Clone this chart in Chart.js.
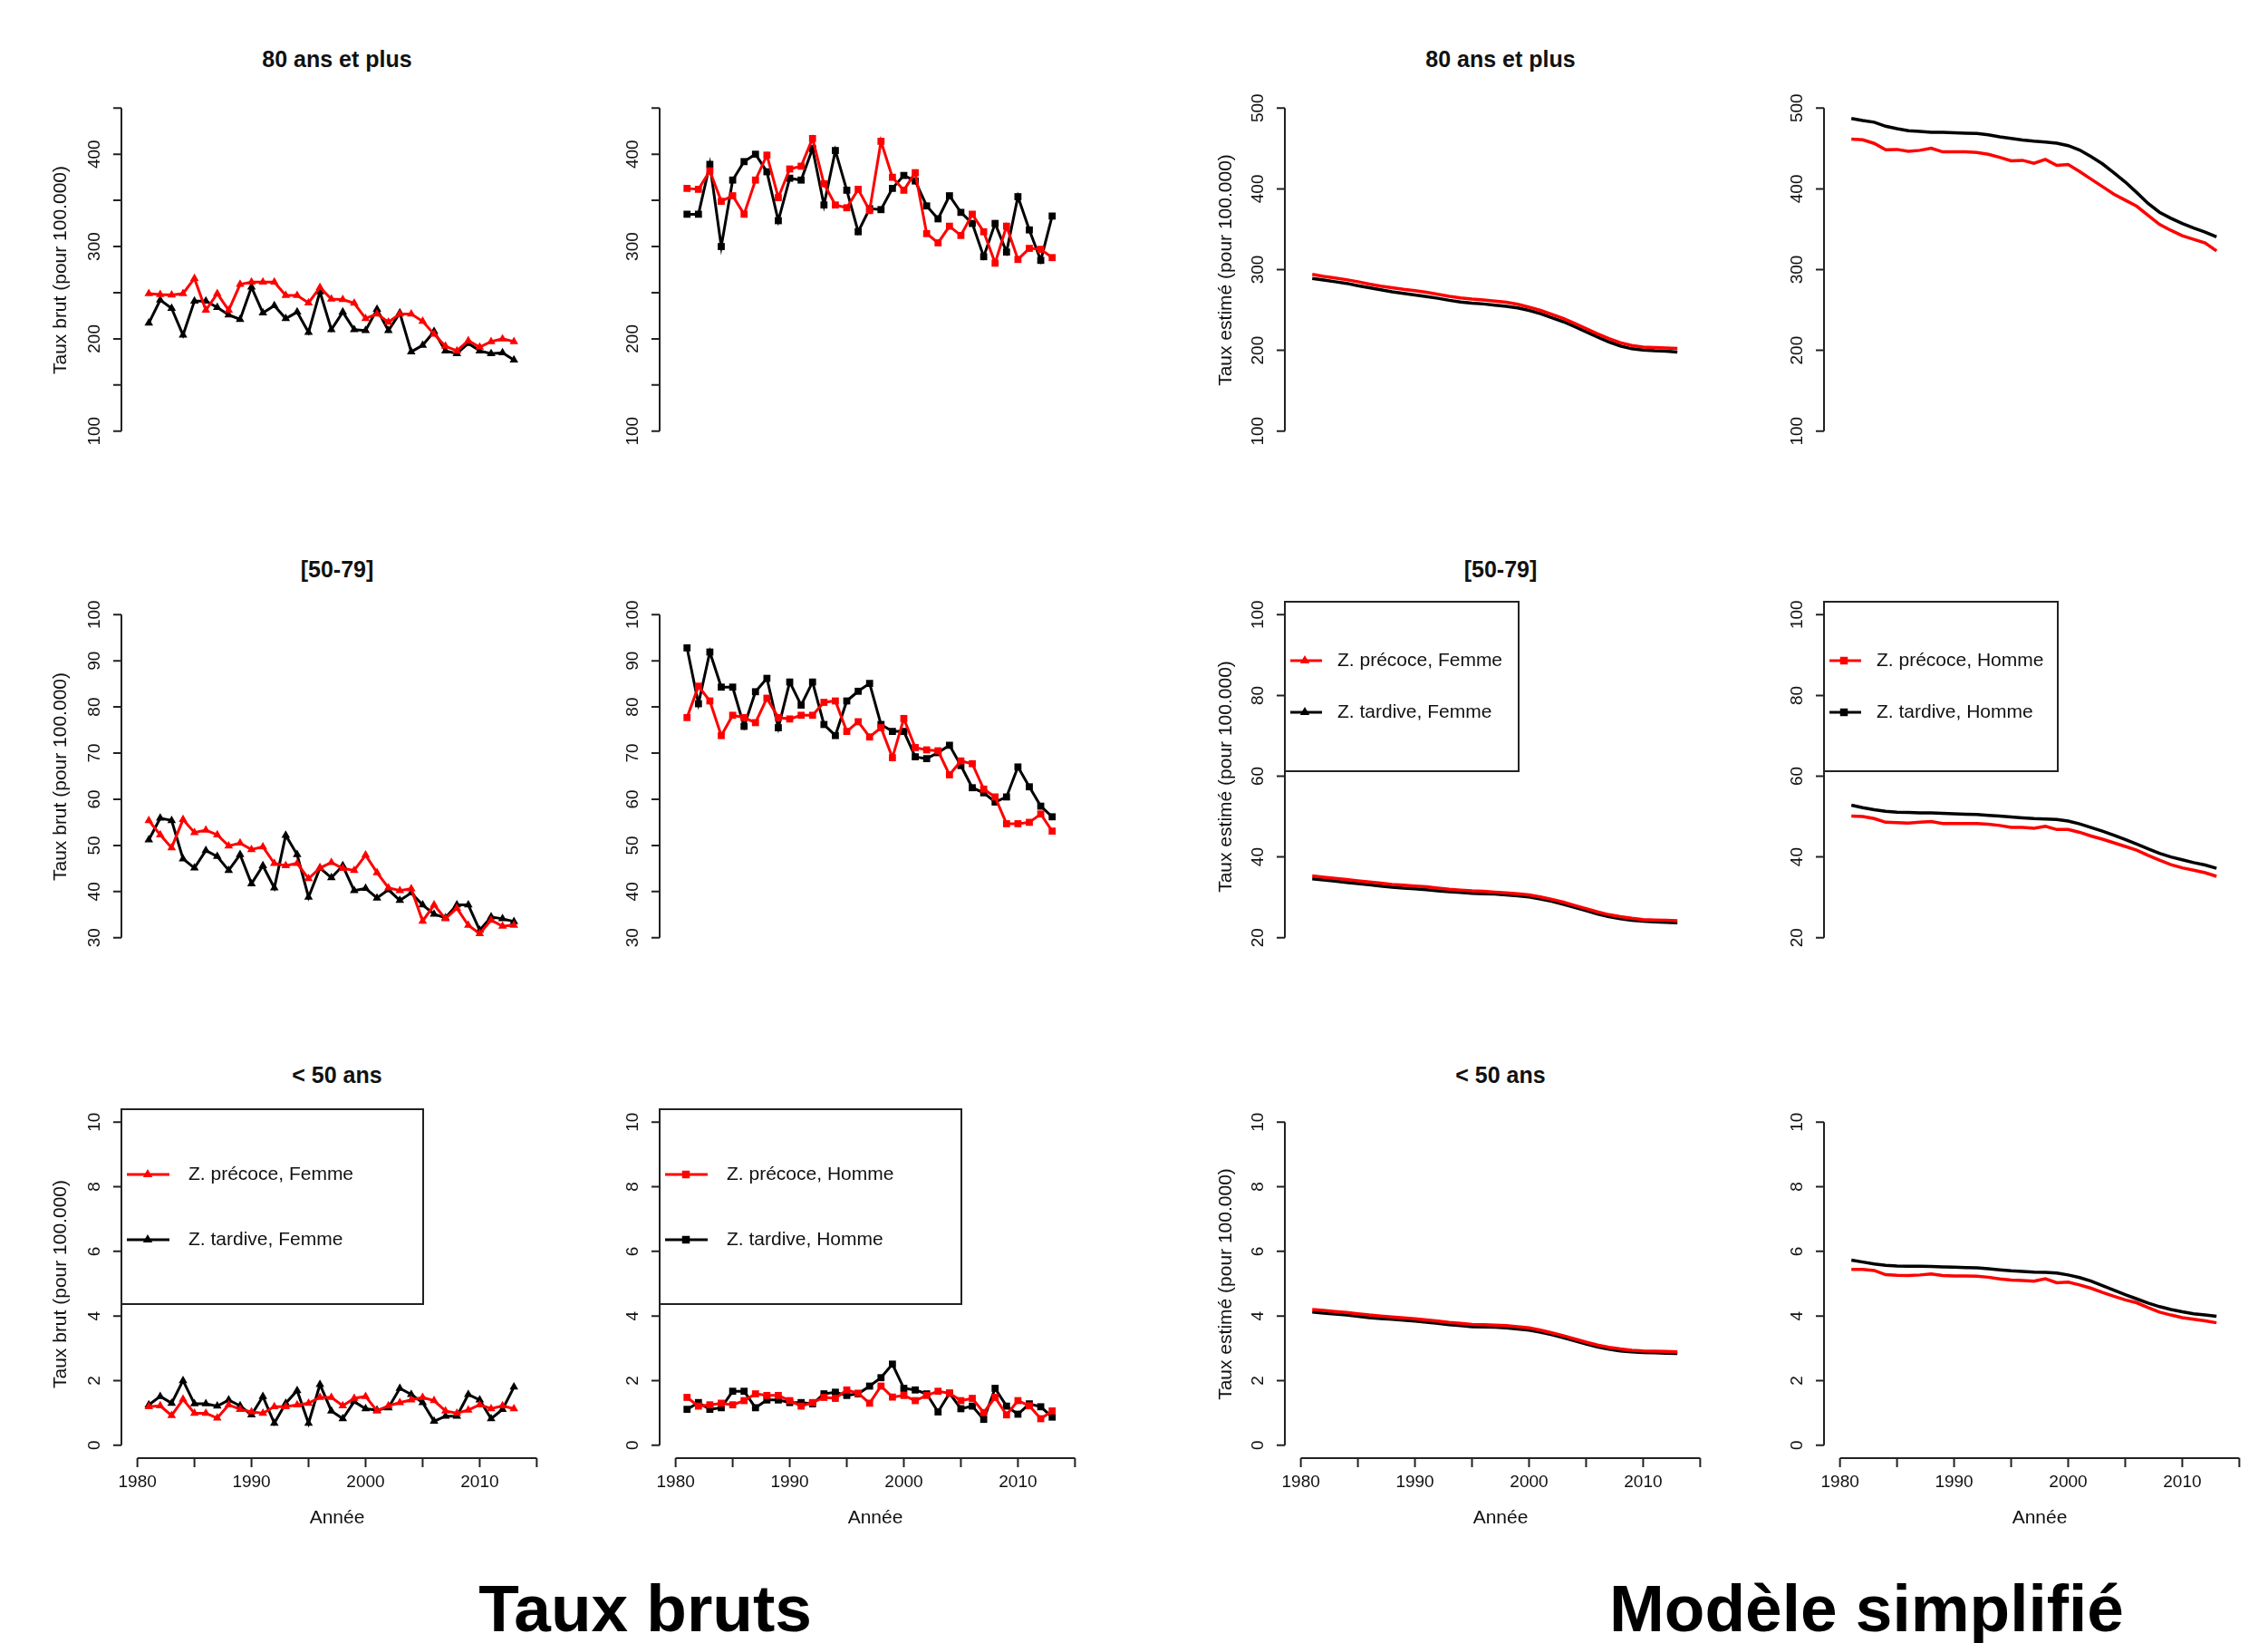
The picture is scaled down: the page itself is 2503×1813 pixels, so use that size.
<!DOCTYPE html>
<html>
<head>
<meta charset="utf-8">
<title>Taux bruts / Modèle simplifié</title>
<script src="https://cdn.jsdelivr.net/npm/chart.js@4.4.1/dist/chart.umd.min.js"></script>
<style>
  body { margin: 0; background: #fff; width: 2503px; height: 1813px; position: relative; overflow: hidden;
         font-family: "Liberation Sans", Arial, sans-serif; color: #111; }
  canvas { position: absolute; }
  .txt { position: absolute; white-space: nowrap; line-height: 1; transform: translate(-50%, -50%); }
  .titre { font-size: 25px; font-weight: bold; }
  .ylab { font-size: 21px; transform: translate(-50%, -50%) rotate(-90deg); }
  .xlab { font-size: 21px; }
  .big { font-size: 73px; font-weight: bold; color: #000; }
</style>
</head>
<body>
<script>
// years on the x axis
const years = [1981, 1982, 1983, 1984, 1985, 1986, 1987, 1988, 1989, 1990, 1991, 1992, 1993, 1994, 1995, 1996, 1997,
  1998, 1999, 2000, 2001, 2002, 2003, 2004, 2005, 2006, 2007, 2008, 2009, 2010, 2011, 2012, 2013];

// Taux bruts - 80 ans et plus
const brut80F_precoce = [249, 248, 247.5, 249, 265.5, 231, 249, 231, 259, 261.5, 261.5, 261.5, 247, 247, 239, 255.7, 243,
  242.5, 238.6, 222, 227, 218, 227, 227, 219, 205, 192, 187, 198, 191, 197, 200, 197];
const brut80F_tardive = [217, 242, 233, 204, 241, 241, 234, 226, 221, 256, 228, 236, 222, 229, 207, 251, 210,
  229, 210, 209, 232, 209, 228, 186, 193, 208, 187, 184, 195, 187, 184, 185, 177];
const brut80H_precoce = [363, 362, 382, 349, 355, 335, 372, 399, 353, 384, 387, 417, 368, 345, 342, 362, 339,
  414, 375, 361, 380, 314, 304, 322, 312, 335, 316, 282, 322, 286, 298, 297, 288];
const brut80H_tardive = [335, 335, 389, 300, 372, 392, 400, 381, 328, 374, 372, 406, 345, 404, 361, 316, 341,
  340, 363, 377, 371, 344, 330, 355, 337, 325, 289, 325, 294, 354, 318, 285, 333];

// Taux bruts - [50-79]
const brut5079F_precoce = [55.4, 52.3, 49.5, 55.6, 52.8, 53.3, 52.3, 49.9, 50.5, 49.1, 49.7, 46.1, 45.6, 46.1, 42.8, 45.1, 46.3,
  45.0, 44.6, 47.9, 44.1, 40.8, 40.2, 40.6, 33.6, 37.1, 34.1, 36.4, 32.7, 30.9, 33.8, 32.5, 32.7];
const brut5079F_tardive = [51.2, 55.9, 55.4, 47.1, 45.1, 48.9, 47.6, 44.6, 48.0, 41.7, 45.6, 40.8, 52.2, 48.0, 38.8, 45.1, 43.0,
  45.6, 40.2, 40.7, 38.6, 40.4, 38.1, 39.7, 37.1, 35.1, 34.3, 37.1, 37.1, 31.6, 34.5, 34.1, 33.5];
const brut5079H_precoce = [77.7, 84.5, 81.3, 73.8, 78.2, 77.7, 76.6, 81.9, 77.7, 77.4, 78.2, 78.2, 81.0, 81.3, 74.7, 76.8, 73.5,
  75.5, 69.0, 77.5, 71.2, 70.7, 70.5, 65.3, 68.3, 67.7, 62.2, 60.5, 54.7, 54.7, 55.0, 56.8, 53.1];
const brut5079H_tardive = [92.8, 80.7, 91.9, 84.3, 84.3, 75.8, 83.3, 86.2, 75.5, 85.4, 80.4, 85.4, 76.2, 73.8, 81.3, 83.4, 85.1,
  76.2, 74.7, 74.7, 69.2, 68.8, 70.1, 71.7, 67.3, 62.5, 61.4, 59.4, 60.5, 67.0, 62.7, 58.5, 56.2];

// Taux bruts - < 50 ans
const brut50F_precoce = [1.19, 1.22, 0.92, 1.42, 0.99, 0.99, 0.84, 1.25, 1.11, 1.03, 0.99, 1.19, 1.19, 1.25, 1.30, 1.48, 1.48,
  1.22, 1.45, 1.51, 1.06, 1.22, 1.32, 1.40, 1.48, 1.38, 1.06, 0.99, 1.09, 1.25, 1.13, 1.22, 1.13];
const brut50F_tardive = [1.25, 1.51, 1.30, 2.00, 1.28, 1.28, 1.21, 1.40, 1.22, 0.94, 1.51, 0.68, 1.30, 1.69, 0.68, 1.88, 1.06,
  0.82, 1.35, 1.13, 1.09, 1.16, 1.76, 1.57, 1.32, 0.74, 0.90, 0.90, 1.57, 1.40, 0.82, 1.11, 1.80];
const brut50H_precoce = [1.48, 1.21, 1.25, 1.30, 1.25, 1.38, 1.59, 1.54, 1.54, 1.38, 1.21, 1.32, 1.48, 1.45, 1.71, 1.61, 1.30,
  1.83, 1.49, 1.54, 1.38, 1.54, 1.67, 1.61, 1.38, 1.45, 1.01, 1.48, 0.94, 1.38, 1.22, 0.82, 1.06];
const brut50H_tardive = [1.11, 1.32, 1.11, 1.16, 1.67, 1.67, 1.16, 1.40, 1.40, 1.32, 1.32, 1.28, 1.59, 1.64, 1.54, 1.59, 1.83,
  2.09, 2.51, 1.76, 1.71, 1.59, 1.03, 1.61, 1.13, 1.21, 0.80, 1.76, 1.21, 0.96, 1.28, 1.19, 0.87];

// Modele simplifie - 80 ans et plus
const modele80F_precoce = [294, 291.5, 289.5, 287.5, 285, 282, 279.5, 277.5, 275.5, 274, 272, 269.5, 267, 265, 263.5, 262.5, 261,
  259.5, 257, 253.5, 249.5, 244.5, 239.5, 233.5, 227, 220.5, 214.5, 209.5, 206, 204, 203.5, 203, 202.5];
const modele80F_tardive = [289, 287, 285, 283, 280, 277.5, 275, 272.5, 270.5, 268.5, 266.5, 264.5, 262, 260, 258.5, 257.5, 256,
  254.5, 252.5, 249.5, 245.5, 240.5, 235.5, 229.5, 223, 216.5, 210.5, 205.5, 202, 200.5, 199.5, 199, 198];
const modele80H_precoce = [461.5, 460.7, 456.3, 448.4, 448.8, 446.5, 447.7, 450.3, 445.8, 445.8, 445.8, 445, 442.8, 439, 434.6, 435.3, 431.6,
  436.4, 429, 430.1, 421.5, 412.1, 402.8, 393.5, 386, 378.5, 367.3, 356.1, 348.6, 341.9, 337.4, 332.9, 323.2];
const modele80H_tardive = [487, 484.5, 482.5, 477.5, 474.5, 472, 471, 470, 470, 469.5, 469, 468.5, 467, 464.5, 462.5, 460.5, 459,
  458, 456.5, 453.5, 448, 440, 431, 420, 408.5, 395.5, 382, 371, 363.5, 357, 351.5, 346.5, 340.5];

// Modele simplifie - [50-79]
const modele5079F_precoce = [35.3, 35.0, 34.7, 34.4, 34.1, 33.8, 33.5, 33.2, 33.0, 32.8, 32.6, 32.3, 32.0, 31.8, 31.6, 31.5, 31.3,
  31.1, 30.9, 30.6, 30.1, 29.5, 28.8, 28.0, 27.2, 26.4, 25.7, 25.2, 24.8, 24.5, 24.4, 24.3, 24.2];
const modele5079F_tardive = [34.6, 34.3, 34.0, 33.7, 33.4, 33.1, 32.8, 32.5, 32.3, 32.1, 31.9, 31.6, 31.4, 31.2, 31.0, 30.9, 30.8,
  30.6, 30.4, 30.1, 29.6, 29.0, 28.3, 27.5, 26.7, 25.9, 25.2, 24.7, 24.3, 24.1, 23.9, 23.8, 23.7];
const modele5079H_precoce = [50.1, 50.0, 49.5, 48.6, 48.5, 48.4, 48.6, 48.8, 48.3, 48.3, 48.3, 48.3, 48.1, 47.8, 47.3, 47.3, 47.1,
  47.6, 46.8, 46.8, 46.1, 45.2, 44.4, 43.5, 42.6, 41.7, 40.4, 39.2, 38.1, 37.3, 36.7, 36.1, 35.2];
const modele5079H_tardive = [52.8, 52.2, 51.7, 51.3, 51.1, 51.0, 50.9, 50.9, 50.8, 50.7, 50.6, 50.5, 50.3, 50.1, 49.9, 49.7, 49.5,
  49.4, 49.3, 48.9, 48.2, 47.3, 46.4, 45.4, 44.3, 43.2, 42.0, 40.9, 40.0, 39.3, 38.6, 38.0, 37.2];

// Modele simplifie - < 50 ans
const modele50F_precoce = [4.20, 4.17, 4.14, 4.11, 4.07, 4.03, 4.00, 3.97, 3.94, 3.91, 3.88, 3.84, 3.80, 3.77, 3.74, 3.73, 3.72,
  3.70, 3.67, 3.63, 3.56, 3.48, 3.39, 3.29, 3.19, 3.10, 3.03, 2.98, 2.94, 2.92, 2.91, 2.90, 2.89];
const modele50F_tardive = [4.12, 4.09, 4.06, 4.03, 3.99, 3.95, 3.92, 3.90, 3.87, 3.84, 3.81, 3.77, 3.73, 3.70, 3.67, 3.66, 3.65,
  3.63, 3.60, 3.56, 3.50, 3.42, 3.33, 3.23, 3.13, 3.04, 2.97, 2.92, 2.89, 2.87, 2.86, 2.85, 2.84];
const modele50H_precoce = [5.44, 5.44, 5.41, 5.28, 5.26, 5.25, 5.27, 5.30, 5.25, 5.24, 5.24, 5.23, 5.20, 5.15, 5.11, 5.10, 5.08,
  5.15, 5.03, 5.05, 4.96, 4.86, 4.73, 4.61, 4.50, 4.41, 4.26, 4.12, 4.03, 3.95, 3.90, 3.85, 3.79];
const modele50H_tardive = [5.73, 5.67, 5.61, 5.57, 5.55, 5.54, 5.54, 5.53, 5.52, 5.51, 5.50, 5.49, 5.46, 5.43, 5.40, 5.38, 5.36,
  5.35, 5.33, 5.27, 5.19, 5.08, 4.94, 4.80, 4.66, 4.53, 4.40, 4.29, 4.20, 4.13, 4.07, 4.03, 3.99];

// axis ticks
const xTicks = [1980, 1985, 1990, 1995, 2000, 2005, 2010, 2015];
const xLabels = [1980, 1990, 2000, 2010];
const yTicks80Brut = [100, 150, 200, 250, 300, 350, 400, 450];
const yLabels80Brut = [100, 200, 300, 400];
const yTicks80Modele = [100, 200, 300, 400, 500];
const yTicks5079Brut = [30, 40, 50, 60, 70, 80, 90, 100];
const yTicks5079Modele = [20, 40, 60, 80, 100];
const yTicks50 = [0, 2, 4, 6, 8, 10];

const rowTitles = ['80 ans et plus', '[50-79]', '< 50 ans'];

// layout (page pixels)
const COL_LEFT = [134, 728, 1418, 2013];
const ROW_TOP = [105, 664, 1224];
const PLOT_W = 476, PLOT_H = 385;
const PAD = { left: 110, top: 20, right: 14, bottom: 60 };
const FONT = '"Liberation Sans", Arial, sans-serif';

const legendBrut = { w: 333, h: 215, rows: [72, 144], line: [6, 53], mark: 29, text: 74 };
const legendModele = { w: 258, h: 187, rows: [65, 122], line: [6, 41], mark: 22, text: 58 };

const panels = [
  { row: 0, col: 0, brut: true, sexe: 'Femme', s: [brut80F_precoce, brut80F_tardive], y: [86, 464], yt: yTicks80Brut, yl: yLabels80Brut },
  { row: 0, col: 1, brut: true, sexe: 'Homme', s: [brut80H_precoce, brut80H_tardive], y: [86, 464], yt: yTicks80Brut, yl: yLabels80Brut },
  { row: 0, col: 2, brut: false, sexe: 'Femme', s: [modele80F_precoce, modele80F_tardive], y: [84, 516], yt: yTicks80Modele, yl: yTicks80Modele },
  { row: 0, col: 3, brut: false, sexe: 'Homme', s: [modele80H_precoce, modele80H_tardive], y: [84, 516], yt: yTicks80Modele, yl: yTicks80Modele },
  { row: 1, col: 0, brut: true, sexe: 'Femme', s: [brut5079F_precoce, brut5079F_tardive], y: [27.2, 102.8], yt: yTicks5079Brut, yl: yTicks5079Brut },
  { row: 1, col: 1, brut: true, sexe: 'Homme', s: [brut5079H_precoce, brut5079H_tardive], y: [27.2, 102.8], yt: yTicks5079Brut, yl: yTicks5079Brut },
  { row: 1, col: 2, brut: false, sexe: 'Femme', s: [modele5079F_precoce, modele5079F_tardive], y: [16.8, 103.2], yt: yTicks5079Modele, yl: yTicks5079Modele, legend: legendModele },
  { row: 1, col: 3, brut: false, sexe: 'Homme', s: [modele5079H_precoce, modele5079H_tardive], y: [16.8, 103.2], yt: yTicks5079Modele, yl: yTicks5079Modele, legend: legendModele },
  { row: 2, col: 0, brut: true, sexe: 'Femme', s: [brut50F_precoce, brut50F_tardive], y: [-0.4, 10.4], yt: yTicks50, yl: yTicks50, legend: legendBrut },
  { row: 2, col: 1, brut: true, sexe: 'Homme', s: [brut50H_precoce, brut50H_tardive], y: [-0.4, 10.4], yt: yTicks50, yl: yTicks50, legend: legendBrut },
  { row: 2, col: 2, brut: false, sexe: 'Femme', s: [modele50F_precoce, modele50F_tardive], y: [-0.4, 10.4], yt: yTicks50, yl: yTicks50 },
  { row: 2, col: 3, brut: false, sexe: 'Homme', s: [modele50H_precoce, modele50H_tardive], y: [-0.4, 10.4], yt: yTicks50, yl: yTicks50 }
];

function drawMarker(ctx, style, x, y, r) {
  ctx.beginPath();
  if (style === 'triangle') {
    ctx.moveTo(x, y - r);
    ctx.lineTo(x + r * 0.866, y + r * 0.5);
    ctx.lineTo(x - r * 0.866, y + r * 0.5);
  } else {
    const s = r * 0.707;
    ctx.rect(x - s, y - s, 2 * s, 2 * s);
  }
  ctx.closePath();
  ctx.fill();
}

// R-style axes (line only between first and last tick) + boxed legend
const rAxes = {
  id: 'rAxes',
  afterDraw(chart, args, o) {
    const ctx = chart.ctx, a = chart.chartArea;
    const xs = chart.scales.x, ys = chart.scales.y;
    ctx.save();
    ctx.strokeStyle = '#222';
    ctx.lineWidth = 2;
    ctx.fillStyle = '#111';
    ctx.font = '19px ' + FONT;

    ctx.beginPath();
    ctx.moveTo(a.left, ys.getPixelForValue(o.yt[0]));
    ctx.lineTo(a.left, ys.getPixelForValue(o.yt[o.yt.length - 1]));
    o.yt.forEach(v => {
      const p = ys.getPixelForValue(v);
      ctx.moveTo(a.left, p);
      ctx.lineTo(a.left - 9, p);
    });
    ctx.stroke();
    ctx.textAlign = 'center';
    ctx.textBaseline = 'middle';
    o.yl.forEach(v => {
      ctx.save();
      ctx.translate(a.left - 29, ys.getPixelForValue(v));
      ctx.rotate(-Math.PI / 2);
      ctx.fillText(String(v), 0, 0);
      ctx.restore();
    });

    if (o.showX) {
      const yb = a.bottom;
      ctx.beginPath();
      ctx.moveTo(xs.getPixelForValue(xTicks[0]), yb);
      ctx.lineTo(xs.getPixelForValue(xTicks[xTicks.length - 1]), yb);
      xTicks.forEach(v => {
        const p = xs.getPixelForValue(v);
        ctx.moveTo(p, yb);
        ctx.lineTo(p, yb + 10);
      });
      ctx.stroke();
      xLabels.forEach(v => ctx.fillText(String(v), xs.getPixelForValue(v), yb + 27));
    }

    if (o.legend) {
      const L = o.legend;
      ctx.strokeStyle = '#222';
      ctx.lineWidth = 2;
      ctx.strokeRect(a.left, a.top, L.w, L.h);
      ctx.font = '21px ' + FONT;
      ctx.textAlign = 'left';
      chart.data.datasets.forEach((ds, i) => {
        const yy = a.top + L.rows[i];
        ctx.strokeStyle = ds.borderColor;
        ctx.lineWidth = 3;
        ctx.beginPath();
        ctx.moveTo(a.left + L.line[0], yy);
        ctx.lineTo(a.left + L.line[1], yy);
        ctx.stroke();
        ctx.fillStyle = ds.borderColor;
        drawMarker(ctx, o.marker, a.left + L.mark, yy, 6);
        ctx.fillStyle = '#111';
        ctx.fillText(ds.label, a.left + L.text, yy);
      });
    }
    ctx.restore();
  }
};

panels.forEach(p => {
  const cv = document.createElement('canvas');
  const left = COL_LEFT[p.col] - PAD.left, top = ROW_TOP[p.row] - PAD.top;
  const w = PAD.left + PLOT_W + PAD.right, h = PAD.top + PLOT_H + PAD.bottom;
  cv.width = w;
  cv.height = h;
  cv.style.left = left + 'px';
  cv.style.top = top + 'px';
  document.body.appendChild(cv);

  const marker = p.sexe === 'Femme' ? 'triangle' : 'rect';
  const noms = ['Z. précoce, ' + p.sexe, 'Z. tardive, ' + p.sexe];
  const couleurs = ['#ff0000', '#000000'];
  const datasets = p.s.map((vals, i) => ({
    label: noms[i],
    data: years.map((yr, k) => ({ x: yr, y: vals[k] })),
    borderColor: couleurs[i],
    backgroundColor: couleurs[i],
    borderWidth: p.brut ? 3 : 3.5,
    pointStyle: marker,
    pointRadius: p.brut ? 5.5 : 0,
    pointBorderWidth: 0,
    tension: 0
  }));

  new Chart(cv, {
    type: 'line',
    data: { datasets },
    options: {
      responsive: false,
      animation: false,
      devicePixelRatio: 1,
      layout: { padding: PAD },
      scales: {
        x: { type: 'linear', min: 1978.6, max: 2016.4, display: false },
        y: { type: 'linear', min: p.y[0], max: p.y[1], display: false }
      },
      plugins: {
        legend: { display: false },
        tooltip: { enabled: false },
        rAxes: { yt: p.yt, yl: p.yl, showX: p.row === 2, legend: p.legend, marker }
      }
    },
    plugins: [rAxes]
  });
});

// texts
function addText(str, cls, x, y) {
  const d = document.createElement('div');
  d.className = 'txt ' + cls;
  d.textContent = str;
  d.style.left = x + 'px';
  d.style.top = y + 'px';
  document.body.appendChild(d);
}

const titleY = [65, 628, 1186];
rowTitles.forEach((t, r) => {
  addText(t, 'titre', 372, titleY[r]);
  addText(t, 'titre', 1656, titleY[r]);
  const cy = ROW_TOP[r] + PLOT_H / 2;
  addText('Taux brut (pour 100.000)', 'ylab', 65, cy);
  addText('Taux estimé (pour 100.000)', 'ylab', 1351, cy);
});
COL_LEFT.forEach(x => addText('Année', 'xlab', x + PLOT_W / 2, 1673));
addText('Taux bruts', 'big', 712, 1774);
addText('Modèle simplifié', 'big', 2060, 1774);
</script>
</body>
</html>
